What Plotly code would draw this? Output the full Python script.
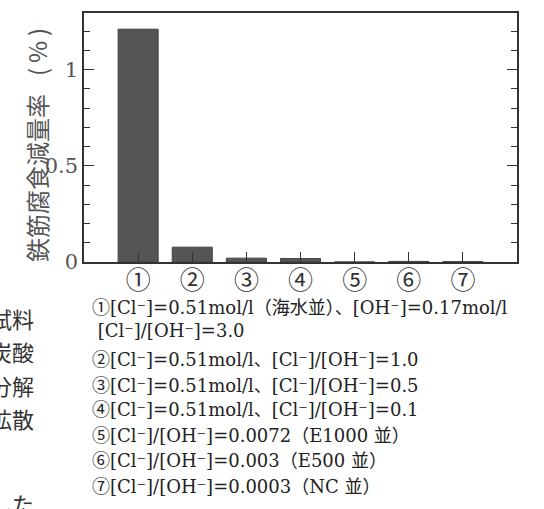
import plotly.graph_objects as go

# ---- data ----
categories = [1, 2, 3, 4, 5, 6, 7]
cat_labels = ["①", "②", "③", "④", "⑤", "⑥", "⑦"]
loss_rate = [1.21, 0.077, 0.02, 0.018, 0.0, 0.003, 0.002]
y_tickvals = [0, 0.5, 1]
y_ticktext = ["0", "0.5", "1"]
y_title = "鉄筋腐食減量率\u2002\u2005(\u2009%\u2009)"
notes = [
    "①[Cl⁻]=0.51mol/l（海水並）、[OH⁻]=0.17mol/l",
    " [Cl⁻]/[OH⁻]=3.0",
    "②[Cl⁻]=0.51mol/l、[Cl⁻]/[OH⁻]=1.0",
    "③[Cl⁻]=0.51mol/l、[Cl⁻]/[OH⁻]=0.5",
    "④[Cl⁻]=0.51mol/l、[Cl⁻]/[OH⁻]=0.1",
    "⑤[Cl⁻]/[OH⁻]=0.0072（E1000 並）",
    "⑥[Cl⁻]/[OH⁻]=0.003（E500 並）",
    "⑦[Cl⁻]/[OH⁻]=0.0003（NC 並）",
]
side_text = ["試料", "炭酸", "分解", "拡散", "した"]

# ---- layout geometry (pixels) ----
W, H = 544, 509
L, R, T, B = 84, 517, 11, 262
PW, PH = R - L, B - T


def px(x):
    return (x - L) / PW


def py(y):
    return (B - y) / PH


SERIF = "DejaVu Serif, Noto Sans CJK JP"
INK = "#333333"

fig = go.Figure()
fig.add_trace(go.Bar(
    x=categories, y=loss_rate, width=0.74,
    marker=dict(color="#555555", line=dict(color="#444444", width=1)),
))

fig.update_layout(
    width=W, height=H,
    margin=dict(l=L, r=W - R, t=T, b=H - B),
    paper_bgcolor="white", plot_bgcolor="white",
    showlegend=False,
    font=dict(family=SERIF, color=INK),
)
fig.update_xaxes(
    range=[0, 8], tickvals=categories, ticktext=cat_labels,
    ticks="inside", ticklen=10, tickwidth=1.2, tickcolor=INK,
    showline=True, linecolor=INK, linewidth=1.5, mirror=True,
    showgrid=False, zeroline=False, ticklabelstandoff=-5,
    tickfont=dict(size=25, family="Noto Sans CJK JP", color=INK),
)
fig.update_yaxes(
    range=[0, 1.294], tickvals=y_tickvals, ticktext=y_ticktext,
    ticks="inside", ticklen=10, tickwidth=1.2, tickcolor=INK,
    minor=dict(dtick=0.1, tick0=0, ticks="inside", ticklen=6, tickwidth=1.2, tickcolor=INK),
    showline=True, linecolor=INK, linewidth=1.5, mirror="ticks",
    showgrid=False, zeroline=False,
    tickfont=dict(size=21, family=SERIF, color="#555555"),
)

annotations = [dict(
    text=y_title, textangle=-90, xref="paper", yref="paper",
    x=px(37), y=py(144), xanchor="center", yanchor="middle", showarrow=False,
    font=dict(size=24, family="Noto Sans CJK JP", color="#555555"),
)]
note_y = [308, 331, 360, 386, 411, 437, 462, 488]
for txt, yy in zip(notes, note_y):
    annotations.append(dict(
        text=txt, xref="paper", yref="paper", x=px(90), y=py(yy),
        xanchor="left", yanchor="middle", showarrow=False,
        font=dict(size=18, family=SERIF, color="#222222"),
    ))
side_y = [318, 352, 386, 419, 505]
for txt, yy in zip(side_text, side_y):
    annotations.append(dict(
        text=txt, xref="paper", yref="paper", x=px(36), y=py(yy),
        xanchor="right", yanchor="middle", showarrow=False,
        font=dict(size=22, family="Noto Sans CJK JP", color=INK),
    ))
fig.update_layout(annotations=annotations)

fig.write_html("out.html", config={"displayModeBar": False},
               post_script="document.body.style.margin='0';")
